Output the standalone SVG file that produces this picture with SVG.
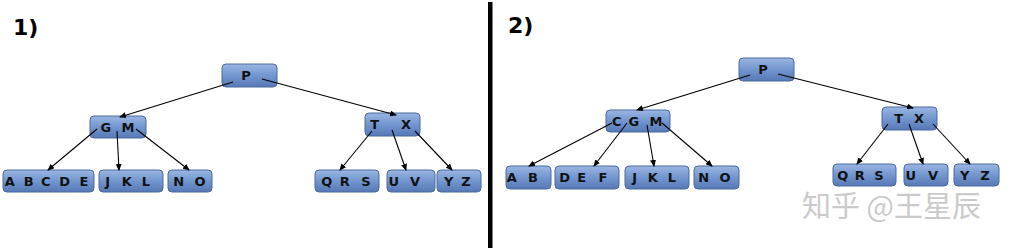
<svg xmlns="http://www.w3.org/2000/svg" width="1014" height="248" viewBox="0 0 1014 248">
<defs>
<linearGradient id="g" x1="0" y1="0" x2="0" y2="1">
<stop offset="0" stop-color="#9ab6e2"/>
<stop offset="0.5" stop-color="#7396cf"/>
<stop offset="1" stop-color="#5679b6"/>
</linearGradient>
<marker id="ah" markerUnits="userSpaceOnUse" markerWidth="7" markerHeight="6" refX="6" refY="3" orient="auto">
<path d="M0,0 L7,3 L0,6 z" fill="#000"/>
</marker>
<style>
.n{fill:url(#g);stroke:#4a6aa0;stroke-width:1}
.t{font-family:"DejaVu Sans",sans-serif;font-weight:bold;font-size:13px;fill:#111;text-anchor:middle}
.c line{stroke:#000;stroke-width:1.1;marker-end:url(#ah)}
.lbl{font-family:"DejaVu Sans",sans-serif;font-weight:bold;font-size:22px;fill:#000}
</style>
</defs>
<rect width="1014" height="248" fill="#fff"/>
<text class="lbl" x="13" y="35">1)</text>
<text class="lbl" x="508" y="33">2)</text>
<rect x="488" y="2" width="4.5" height="246" fill="#000"/>

<g id="l-P"><rect class="n" x="222" y="64" width="55" height="23" rx="4"/><text class="t" x="246" y="80">P</text></g>
<g id="l-GM"><rect class="n" x="90" y="116" width="56" height="22" rx="4"/><text class="t" y="132"><tspan x="108">G</tspan> <tspan x="128">M</tspan></text></g>
<g id="l-TX"><rect class="n" x="365" y="113" width="55" height="23" rx="4"/><text class="t" y="129"><tspan x="377">T</tspan> <tspan x="406">X</tspan></text></g>
<g id="l-ABCDE"><rect class="n" x="3" y="170" width="91" height="22" rx="4"/><text class="t" y="186"><tspan x="12">A</tspan> <tspan x="31">B</tspan> <tspan x="48">C</tspan> <tspan x="67">D</tspan> <tspan x="84">E</tspan></text></g>
<g id="l-JKL"><rect class="n" x="99" y="170" width="64" height="22" rx="4"/><text class="t" y="186"><tspan x="110">J</tspan> <tspan x="129">K</tspan> <tspan x="146">L</tspan></text></g>
<g id="l-NO"><rect class="n" x="168" y="170" width="44" height="22" rx="4"/><text class="t" y="186"><tspan x="181">N</tspan> <tspan x="200">O</tspan></text></g>
<g id="l-QRS"><rect class="n" x="315" y="170" width="64" height="22" rx="4"/><text class="t" y="186"><tspan x="329">Q</tspan> <tspan x="347">R</tspan> <tspan x="366">S</tspan></text></g>
<g id="l-UV"><rect class="n" x="387" y="170" width="48" height="22" rx="4"/><text class="t" y="186"><tspan x="396">U</tspan> <tspan x="415">V</tspan></text></g>
<g id="l-YZ"><rect class="n" x="437" y="170" width="44" height="22" rx="4"/><text class="t" y="186"><tspan x="451">Y</tspan> <tspan x="466">Z</tspan></text></g>

<g id="r-P"><rect class="n" x="739" y="58" width="55" height="23" rx="4"/><text class="t" x="763" y="74">P</text></g>
<g id="r-CGM"><rect class="n" x="606" y="110" width="64" height="22" rx="4"/><text class="t" y="126"><tspan x="619">C</tspan> <tspan x="636">G</tspan> <tspan x="656">M</tspan></text></g>
<g id="r-TX"><rect class="n" x="882" y="107" width="55" height="23" rx="4"/><text class="t" y="123"><tspan x="901">T</tspan> <tspan x="919">X</tspan></text></g>
<g id="r-AB"><rect class="n" x="506" y="166" width="45" height="23" rx="4"/><text class="t" y="182"><tspan x="514">A</tspan> <tspan x="533">B</tspan></text></g>
<g id="r-DEF"><rect class="n" x="555" y="166" width="64" height="23" rx="4"/><text class="t" y="182"><tspan x="567">D</tspan> <tspan x="584">E</tspan> <tspan x="603">F</tspan></text></g>
<g id="r-JKL"><rect class="n" x="625" y="166" width="64" height="23" rx="4"/><text class="t" y="182"><tspan x="637">J</tspan> <tspan x="655">K</tspan> <tspan x="672">L</tspan></text></g>
<g id="r-NO"><rect class="n" x="694" y="166" width="45" height="23" rx="4"/><text class="t" y="182"><tspan x="706">N</tspan> <tspan x="725">O</tspan></text></g>
<g id="r-QRS"><rect class="n" x="833" y="164" width="63" height="22" rx="4"/><text class="t" y="180"><tspan x="845">Q</tspan> <tspan x="862">R</tspan> <tspan x="879">S</tspan></text></g>
<g id="r-UV"><rect class="n" x="904" y="164" width="44" height="22" rx="4"/><text class="t" y="180"><tspan x="913">U</tspan> <tspan x="933">V</tspan></text></g>
<g id="r-YZ"><rect class="n" x="954" y="164" width="45" height="22" rx="4"/><text class="t" y="180"><tspan x="967">Y</tspan> <tspan x="985">Z</tspan></text></g>

<g id="connectors" class="c">
<line x1="233" y1="82" x2="120" y2="117"/>
<line x1="262" y1="79" x2="396" y2="115"/>
<line x1="97" y1="129" x2="48" y2="170"/>
<line x1="117" y1="131" x2="119" y2="170"/>
<line x1="136" y1="129" x2="189" y2="170"/>
<line x1="372" y1="131" x2="340" y2="170"/>
<line x1="392" y1="130" x2="406" y2="170"/>
<line x1="415" y1="131" x2="452" y2="170"/>
<line x1="750" y1="75" x2="637" y2="110"/>
<line x1="778" y1="74" x2="913" y2="108"/>
<line x1="612" y1="123" x2="529" y2="166"/>
<line x1="627" y1="123" x2="594" y2="166"/>
<line x1="647" y1="125" x2="654" y2="166"/>
<line x1="662" y1="123" x2="712" y2="166"/>
<line x1="888" y1="124" x2="857" y2="164"/>
<line x1="909" y1="124" x2="923" y2="164"/>
<line x1="933" y1="124" x2="970" y2="164"/>
</g>

<text x="802" y="217" font-family="'Noto Sans CJK SC',sans-serif" font-size="29" fill="#cacaca">知乎 @王星辰</text>
</svg>
